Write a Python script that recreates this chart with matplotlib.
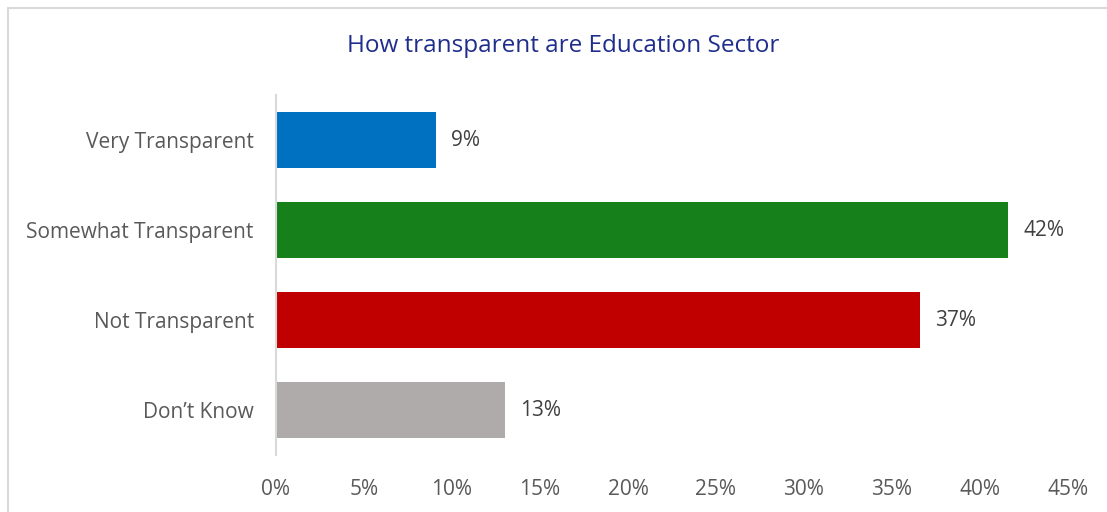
import matplotlib.pyplot as plt
from matplotlib.patches import Rectangle

# survey answers, top to bottom
categories = ["Very Transparent", "Somewhat Transparent", "Not Transparent", "Don\u2019t Know"]
shares = [9.1, 41.6, 36.6, 13.0]
colors = ["#0070C0", "#16801B", "#C00000", "#AFABAB"]
xticks = [0, 5, 10, 15, 20, 25, 30, 35, 40, 45]

plt.rcParams['font.family'] = ['Open Sans', 'DejaVu Sans']

fig = plt.figure(figsize=(11.07, 5.12), dpi=100)

# light frame around the chart area
fig.patches.append(Rectangle((8 / 1107, -0.1), 1.2, (512 - 8) / 512 + 0.1,
                             transform=fig.transFigure, fill=False,
                             edgecolor="#D9D9D9", linewidth=1.5))

ax = fig.add_axes([276 / 1107, 57 / 512, 792 / 1107, 360 / 512])

pos = list(range(len(categories)))
ax.barh(pos, shares, height=0.62, color=colors)

for y, v in zip(pos, shares):
    ax.text(v + 0.85, y, f"{v:.0f}%", va="center", ha="left",
            fontsize=15, color="#404040")

ax.set_xlim(0, 45)
ax.set_ylim(3.5, -0.5)
ax.set_yticks(pos)
ax.set_yticklabels(categories, fontsize=15, color="#595959")
ax.set_xticks(xticks)
ax.set_xticklabels([f"{t}%" for t in xticks], fontsize=15, color="#595959")
ax.tick_params(length=0)
ax.tick_params(axis="y", pad=16)
ax.tick_params(axis="x", pad=17)

for side in ["top", "right", "bottom"]:
    ax.spines[side].set_visible(False)
ax.spines["left"].set_color("#D9D9D9")
ax.spines["left"].set_linewidth(1.5)

fig.text(563 / 1107, 1 - 46 / 512, "How transparent are Education Sector",
         ha="center", va="center", fontsize=17.5, color="#1F2D8C")

fig.savefig("out.png", dpi=100)
